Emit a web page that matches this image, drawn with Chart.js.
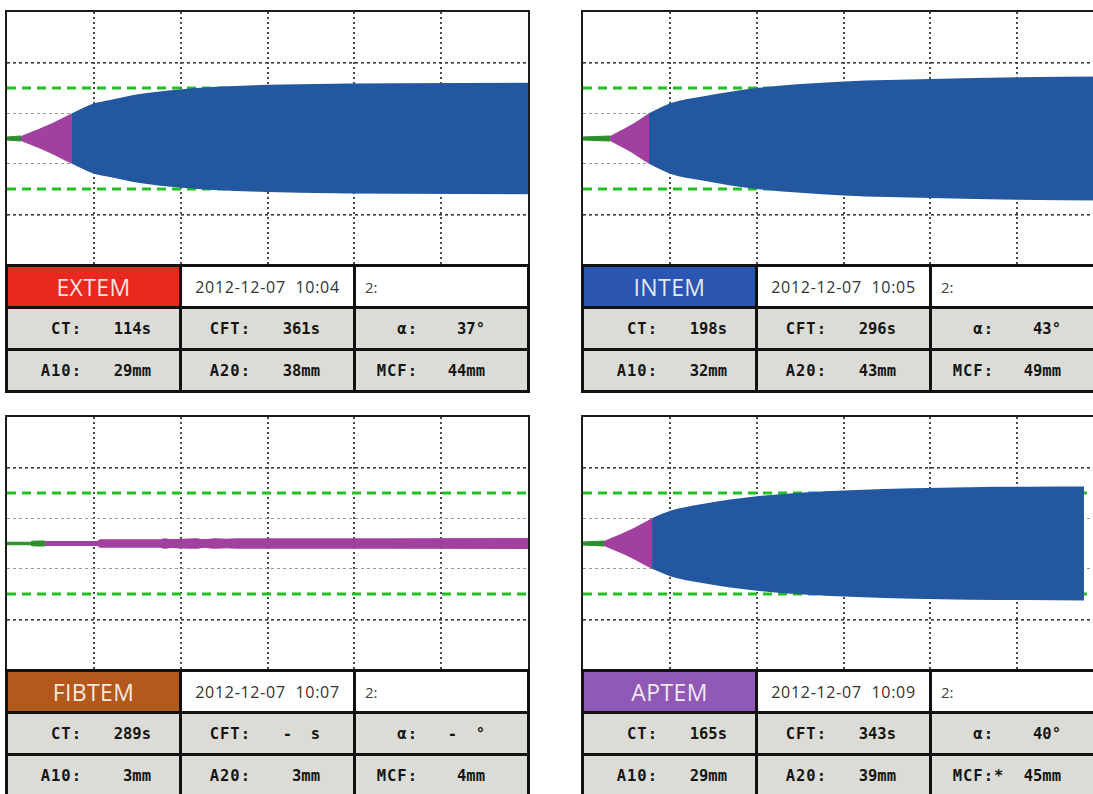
<!DOCTYPE html>
<html>
<head>
<meta charset="utf-8">
<script src="https://cdn.jsdelivr.net/npm/chart.js@4.4.1/dist/chart.umd.min.js"></script>
<style>
  html, body { margin: 0; padding: 0; background: #fff; width: 1093px; height: 794px; overflow: hidden; }
  .plot { position: absolute; border: 2px solid #1c1c1c; background: #fff; }
  .plot canvas { display: block; }
  .info {
    position: absolute; width: 525px; box-sizing: border-box; padding: 3px;
    display: grid; grid-template-columns: 171px 171px 171px; grid-template-rows: 39px 39px 39px;
    gap: 3px; background: #111;
  }
  .info div { display: flex; align-items: center; overflow: hidden; white-space: pre; }
  .name { justify-content: center; font: 400 23px "Open Sans", sans-serif; letter-spacing: 0.4px; color: rgba(255,255,255,0.88); }
  .date { justify-content: center; background: #fff; font: 400 16px "Open Sans", sans-serif; letter-spacing: 0.7px; color: #333; }
  .slot { background: #fff; font: 400 15px "Open Sans", sans-serif; color: #444; padding-left: 9px; }
  .val { background: #dcdcd6; font: 700 15.5px "DejaVu Sans Mono", monospace; color: #151515; }
  .val span { display: inline-block; text-align: right; }
</style>
</head>
<body>
<script>
// time axis in seconds (6 divisions of 10 min), amplitude axis in mm
const xMax = 3600;
const xGrid = [600, 1200, 1800, 2400, 3000];
const yRange = 50;
const yGrid = [-30, -10, 10, 30];
const refLimit = 20;

// traces: time (s) and full amplitude (mm)
const extemTime = [0, 97, 270, 449, 594, 712, 905, 1209, 1576, 2025, 2716, 3600];
const extemAmp  = [1.2, 2, 10, 20, 27.5, 30.5, 35, 39, 41.5, 42.8, 43.6, 44];

const intemTime = [0, 187, 320, 456, 608, 815, 1202, 1803, 2405, 3006, 3600];
const intemAmp  = [1.2, 2, 10, 20, 28, 33, 40, 45, 47, 48.5, 49];

const fibtemTime = [0, 166, 170, 262, 622, 643, 1057, 1090, 1130, 1300, 1360, 1450, 1520, 1580, 1640, 3600];
const fibtemAmp  = [1, 1, 1.8, 2, 2, 3.3, 3.3, 4.2, 3.5, 4.2, 3.6, 4.2, 3.7, 4.1, 4.1, 4.3];

const aptemTime = [0, 145, 310, 477, 608, 815, 1216, 1886, 2667, 3462];
const aptemAmp  = [1.2, 2, 10, 20, 26, 31, 37.5, 42.3, 44.5, 45];

// result tables
const testNames   = ["EXTEM", "INTEM", "FIBTEM", "APTEM"];
const testColors  = ["#e9291f", "#2b56b1", "#b3591d", "#9059b6"];
const testDates   = ["2012-12-07  10:04", "2012-12-07  10:05", "2012-12-07  10:07", "2012-12-07  10:09"];
const ctValues    = ["114s", "198s", "289s", "165s"];
const cftValues   = ["361s", "296s", "-  s", "343s"];
const alphaValues = ["37°", "43°", "-  °", "40°"];
const a10Values   = ["29mm", "32mm", "3mm", "29mm"];
const a20Values   = ["38mm", "43mm", "3mm", "39mm"];
const mcfValues   = ["44mm", "49mm", "4mm", "45mm"];
const mcfMarks    = ["", "", "", "*"];

const traces = [
  [extemTime, extemAmp],
  [intemTime, intemAmp],
  [fibtemTime, fibtemAmp],
  [aptemTime, aptemAmp]
];

const panelX = [5, 581, 5, 581];
const panelY = [10, 10, 415, 415];

const GREEN = "#2c8f2c";
const PURPLE = "#a2409f";
const BLUE = "#2358a1";

function band(times, amps, color, line) {
  const upper = times.map((t, i) => ({ x: t, y: amps[i] / 2 }));
  const lower = times.map((t, i) => ({ x: t, y: -amps[i] / 2 }));
  const common = {
    pointRadius: 0, borderColor: color, borderWidth: line, cubicInterpolationMode: "monotone"
  };
  return [
    Object.assign({ data: upper, fill: "+1", backgroundColor: color }, common),
    Object.assign({ data: lower, fill: false }, common)
  ];
}

function traceDatasets(times, amps) {
  // split by amplitude: before 2 mm (clotting time), 2-20 mm (clot formation), beyond
  let i2 = amps.findIndex(a => a >= 2);
  let i20 = amps.findIndex(a => a >= 20);
  if (i20 < 0) i20 = amps.length - 1;
  const sets = [];
  sets.push(...band(times.slice(i20), amps.slice(i20), BLUE, 0));
  sets.push(...band(times.slice(i2, i20 + 1), amps.slice(i2, i20 + 1), PURPLE, 0));
  sets.push(...band(times.slice(0, i2 + 1), amps.slice(0, i2 + 1), GREEN, 1));
  if (amps[amps.length - 1] < 20) sets.splice(0, 2);
  [refLimit, -refLimit].forEach(v => {
    sets.push({
      data: [{ x: 0, y: v }, { x: xMax, y: v }],
      borderColor: "#22c022", borderWidth: 3, borderDash: [9, 6],
      pointRadius: 0, fill: false
    });
  });
  return sets;
}

function buildTable(k, left, top) {
  const t = document.createElement("div");
  t.className = "info";
  t.style.left = left + "px";
  t.style.top = top + "px";
  const labelW = [74, 69, 62];
  const valueW = [69, 69, 82];
  const cells = [];
  cells.push(`<div class="name" style="background:${testColors[k]}">${testNames[k]}</div>`);
  cells.push(`<div class="date">${testDates[k]}</div>`);
  cells.push(`<div class="slot">2:</div>`);
  const rows = [
    [["CT:", ctValues[k]], ["CFT:", cftValues[k]], ["α:", alphaValues[k]]],
    [["A10:", a10Values[k]], ["A20:", a20Values[k]], ["MCF:", mcfValues[k]]]
  ];
  rows.forEach((row, r) => {
    row.forEach(([lab, val], c) => {
      const mark = (r === 1 && c === 2 && mcfMarks[k]) ?
        `<span style="width:0;text-align:left;overflow:visible">${mcfMarks[k]}</span>` : "";
      const vw = valueW[c] - (c === 2 ? 15 : 0);
      cells.push(`<div class="val"><span style="width:${labelW[c]}px;letter-spacing:1px">${lab}</span>${mark}` +
        `<span style="width:${vw}px">${val}</span></div>`);
    });
  });
  t.innerHTML = cells.join("");
  document.body.appendChild(t);
}

traces.forEach(([times, amps], k) => {
  const box = document.createElement("div");
  box.className = "plot";
  box.style.left = panelX[k] + "px";
  box.style.top = panelY[k] + "px";
  const canvas = document.createElement("canvas");
  canvas.width = 521;
  canvas.height = 253;
  box.appendChild(canvas);
  document.body.appendChild(box);
  buildTable(k, panelX[k], panelY[k] + 254);

  new Chart(canvas.getContext("2d"), {
    type: "line",
    data: { datasets: traceDatasets(times, amps) },
    options: {
      responsive: false,
      animation: false,
      events: [],
      layout: { padding: 0 },
      plugins: { legend: { display: false }, tooltip: { enabled: false } },
      scales: {
        x: {
          type: "linear", min: 0, max: xMax,
          afterBuildTicks: s => { s.ticks = xGrid.map(v => ({ value: v })); },
          ticks: { display: false },
          grid: { color: "#4a4a4a", lineWidth: 2, drawTicks: false },
          border: { display: false, dash: [2, 3] }
        },
        y: {
          type: "linear", min: -yRange, max: yRange,
          afterBuildTicks: s => { s.ticks = yGrid.map(v => ({ value: v })); },
          ticks: { display: false },
          grid: {
            color: c => Math.abs(c.tick.value) === 10 ? "#9a9a9a" : "#3c3c3c",
            lineWidth: c => Math.abs(c.tick.value) === 10 ? 1 : 1.6,
            drawTicks: false
          },
          border: { display: false, dash: [3, 3] }
        }
      }
    }
  });
});
</script>
</body>
</html>
